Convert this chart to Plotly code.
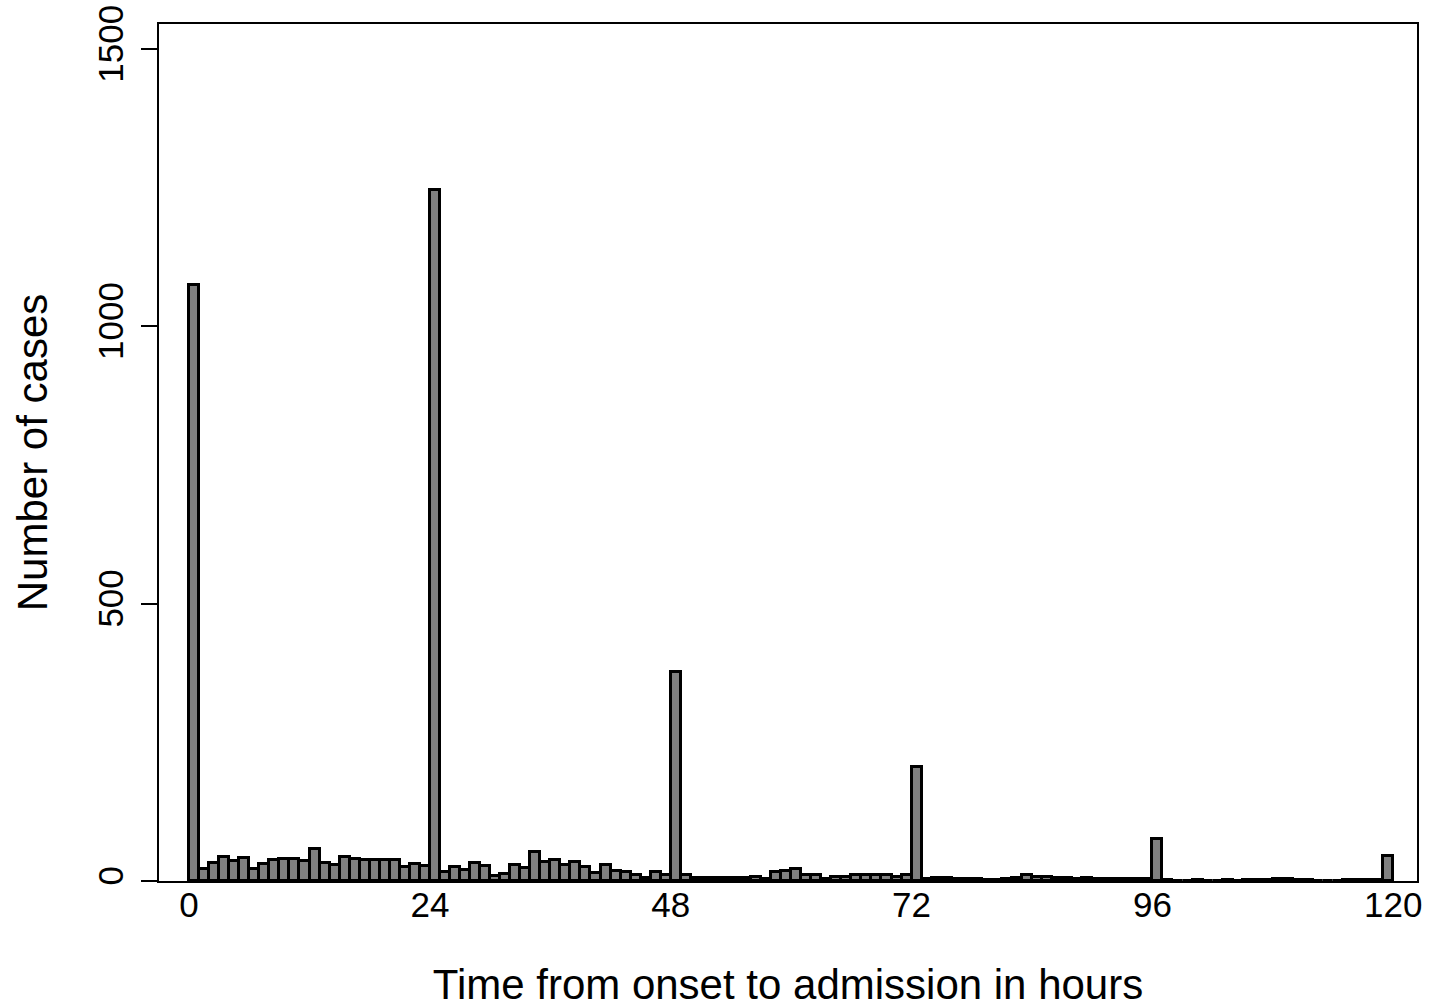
import plotly.graph_objects as go

hours = list(range(0, 120))
cases = [
    1074, 21, 32, 44, 36, 41, 22, 31, 37, 40,
    39, 36, 57, 32, 28, 43, 39, 38, 38, 37,
    37, 25, 31, 27, 1246, 16, 25, 20, 32, 27,
    9, 12, 28, 23, 52, 35, 38, 28, 34, 25,
    15, 29, 18, 17, 10, 5, 17, 10, 376, 10,
    6, 5, 5, 5, 5, 5, 7, 4, 17, 18,
    21, 10, 10, 4, 7, 7, 10, 10, 10, 11,
    7, 10, 206, 4, 5, 5, 3, 4, 4, 2,
    1, 4, 5, 10, 8, 7, 6, 5, 4, 6,
    4, 4, 4, 4, 4, 3, 76, 2, 0, 0,
    2, 0, 0, 2, 0, 2, 2, 2, 3, 3,
    2, 2, 0, 0, 0, 1, 2, 1, 1, 45,
]
x_ticks = [0, 24, 48, 72, 96, 120]
y_ticks = [0, 500, 1000, 1500]

FONT = "Liberation Sans, Arial, Helvetica, sans-serif"

fig = go.Figure()
fig.add_trace(go.Bar(
    x=hours, y=cases, width=1, offset=0,
    marker=dict(color="#808080", line=dict(color="black", width=3)),
    showlegend=False,
))

fig.update_layout(
    width=1429, height=1008,
    margin=dict(l=159, r=12, t=24, b=127),
    paper_bgcolor="white", plot_bgcolor="white",
    bargap=0,
    font=dict(family=FONT, color="black"),
    xaxis=dict(
        range=[-3, 122.37],
        tickvals=x_ticks, ticktext=[str(v) for v in x_ticks],
        ticks="", showgrid=False, zeroline=False,
        showline=True, linecolor="black", linewidth=2, mirror=True,
        tickfont=dict(size=35, family=FONT),
        ticklabelstandoff=-8,
        ticklabeloverflow="allow",
        title=dict(text="Time from onset to admission in hours",
                   font=dict(size=42, family=FONT), standoff=66),
        automargin=False,
    ),
    yaxis=dict(
        range=[0, 1545],
        tickvals=y_ticks, ticktext=[str(v) for v in y_ticks],
        ticks="outside", ticklen=16, tickwidth=2, tickcolor="black",
        tickangle=-90,
        ticklabelstandoff=4,
        ticklabeloverflow="allow",
        showgrid=False, zeroline=False,
        showline=True, linecolor="black", linewidth=2, mirror=True,
        tickfont=dict(size=35, family=FONT),
        title=dict(text="Number of cases", font=dict(size=42, family=FONT), standoff=30),
        automargin=False,
    ),
)

fig.write_html(
    "out.html",
    config={"displayModeBar": False},
    post_script="document.body.style.margin='0';document.body.style.overflow='hidden';",
)
